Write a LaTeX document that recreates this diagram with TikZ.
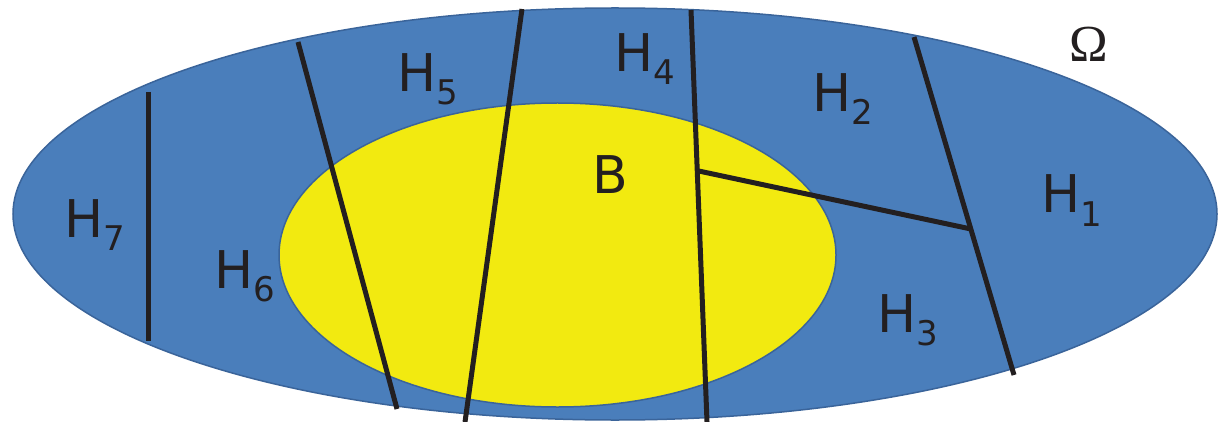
\documentclass[tikz,border=0pt]{standalone}
\usepackage{fontspec}
\setsansfont{DejaVu Sans}
\newfontfamily\omegafont{Liberation Serif}
\usetikzlibrary{calc}
\definecolor{omegablue}{HTML}{4A7EBB}
\definecolor{omegaedge}{HTML}{3A649A}
\definecolor{byellow}{HTML}{F2EA10}
\definecolor{cutline}{HTML}{231F20}
\newcommand\hsubs[1]{\raisebox{-6.5pt}{\fontsize{17pt}{17pt}\selectfont #1}}
\begin{document}
\begin{tikzpicture}[x=0.5pt,y=-0.5pt,
  region/.style={draw=omegaedge,line width=0.75pt},
  cut/.style={draw=cutline,line width=2.5pt},
  lab/.style={inner sep=0pt,anchor=base west,text=cutline,font=\sffamily\fontsize{26pt}{26pt}\selectfont}]
\useasboundingbox (0,0) rectangle (1218,422);
% domain Omega and ball B
\path[region,fill=omegablue] (615,214) ellipse [x radius=301pt, y radius=103pt];
\path[region,fill=byellow] (557.5,255) ellipse [x radius=139.25pt, y radius=76pt];
% cut end points
\coordinate (a1) at (148,92);  \coordinate (a2) at (148,341);
\coordinate (b1) at (298,42);  \coordinate (b2) at (397,409);
\coordinate (c1) at (522,9);   \coordinate (c2) at (465,422);
\coordinate (d1) at (691,10);  \coordinate (d2) at (707,422);
\coordinate (e1) at (914,37);  \coordinate (e2) at (1014,375);
\coordinate (f1) at ($(d1)!0.39!(d2)$);
\coordinate (f2) at ($(e1)!0.568!(e2)$);
\draw[cut] (a1) -- (a2);
\draw[cut] (b1) -- (b2);
\draw[cut] (c1) -- (c2);
\draw[cut] (d1) -- (d2);
\draw[cut] (e1) -- (e2);
\draw[cut] (f1) -- (f2);
% labels
\node[lab] (h7) at (64,237) {H\hsubs{7}};
\node[lab] (h6) at (214,288) {H\hsubs{6}};
\node[lab] (h5) at (397,92) {H\hsubs{5}};
\node[lab] (h4) at (614,72) {H\hsubs{4}};
\node[lab] (bb) at (592,193) {B};
\node[lab] (h2) at (812,112) {H\hsubs{2}};
\node[lab] (h1) at (1041,213) {H\hsubs{1}};
\node[lab] (h3) at (877,332) {H\hsubs{3}};
\node[inner sep=0pt,anchor=base west,text=cutline,font=\omegafont\fontsize{26pt}{26pt}\selectfont] (om) at (1069,62) {Ω};
\end{tikzpicture}
\end{document}
